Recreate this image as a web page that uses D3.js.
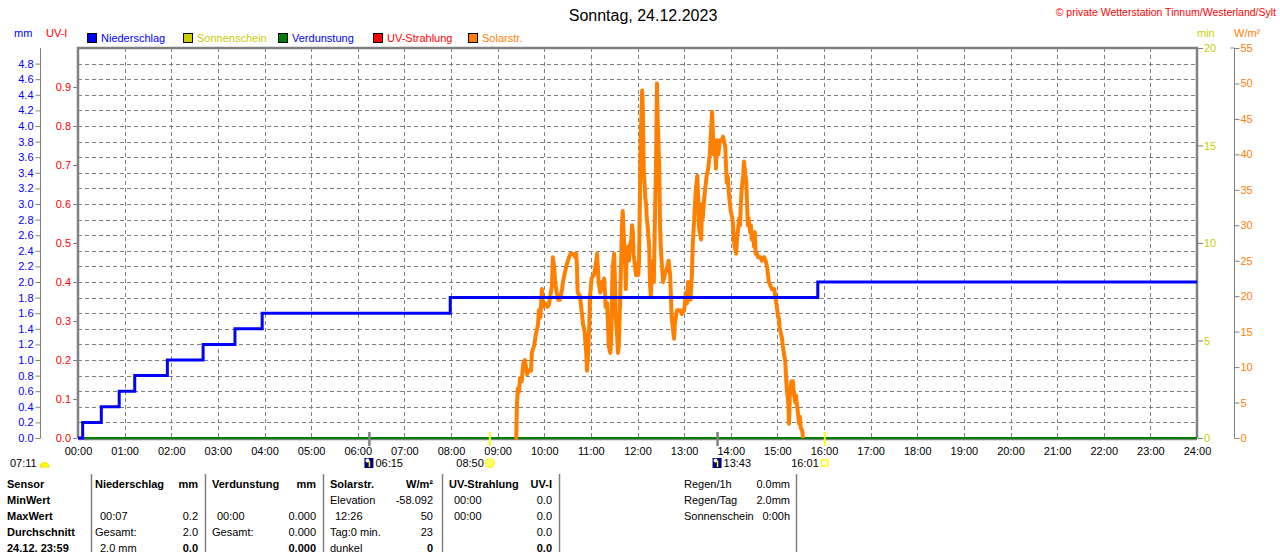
<!DOCTYPE html>
<html>
<head>
<meta charset="utf-8">
<script src="https://cdn.jsdelivr.net/npm/d3@7"></script>
<style>
  body { margin: 0; background: #fff; }
  svg { display: block; font-family: "Liberation Sans", Arial, sans-serif; }
</style>
</head>
<body>
<div id="chart"></div>
<script>
// ---- data ----
var hourLabels = ["00:00","01:00","02:00","03:00","04:00","05:00","06:00","07:00","08:00","09:00","10:00","11:00","12:00",
                  "13:00","14:00","15:00","16:00","17:00","18:00","19:00","20:00","21:00","22:00","23:00","24:00"];
var mmTicks = [0,0.2,0.4,0.6,0.8,1.0,1.2,1.4,1.6,1.8,2.0,2.2,2.4,2.6,2.8,3.0,3.2,3.4,3.6,3.8,4.0,4.2,4.4,4.6,4.8];
var uvTicks = [0,0.1,0.2,0.3,0.4,0.5,0.6,0.7,0.8,0.9];
var minTicks = [0,5,10,15,20];
var solarTicks = [0,5,10,15,20,25,30,35,40,45,50,55];

// Niederschlag, cumulative mm (minutes since midnight)
var rainMinutes = [0, 6, 30, 53, 73, 115, 161, 202, 237, 479, 952, 1440];
var rainMm      = [0, 0.2, 0.4, 0.6, 0.8, 1.0, 1.2, 1.4, 1.6, 1.8, 2.0, 2.0];

// Verdunstung mm
var evapMinutes = [0, 1440];
var evapMm = [0, 0];

// Solarstrahlung [minute, W/m²]
var solar = [[562,0],[564,0],[564.5,3],[565,5],[566,7],[567.5,6.5],[569,8.5],[571,8],[573,10.5],[575,11],[578,9],[580,9.5],
  [583,9.5],[584,12],[587,13],[589,14.5],[592,16],[593,18],[595,17],[596,19],[597,21],[598,18.5],[601,19],[604,18.5],
  [606,18.8],[607,19.5],[610,21.5],[611,25.5],[613,24],[614,22],[616,20.5],[618,19.5],[620,19.5],[623,21],[624,22],
  [627,23.5],[629,24.5],[632,25.5],[634,26],[637,26],[640,25.5],[641,26],[642,24.5],[643,20.5],[646,20],[649,17],[650,16],
  [652,15],[654,12],[655,9.5],[656,11],[658,16],[659,20],[661,22.5],[664,23],[667,25],[668,26],[669,24],[670,22],
  [672,20.5],[673,21],[674,22],[676,21.5],[677,22.5],[678,21],[679,18.5],[681,19],[682,16],[683,13],[685,12],[686,13.5],
  [687,19],[688,24],[690,26],[691,22],[692,17],[694,14],[695,12],[696,13],[697,17],[699,25],[700,30],[701,32],[703,27],
  [704,25],[705,21],[706,26],[708,27],[709,25],[710,27],[712,28],[713,30],[714,29],[715,26],[717,24],[718,23],[719,24.5],
  [721,23],[722,25],[723,33],[724,42],[726,49],[727,46],[728,38],[730,34],[731,33],[732,31],[733,30],[735,27],[736,22],
  [737,20],[739,24],[740,25],[741,22],[742,28],[744,40],[745,50],[746,45],[748,38],[749,30],[750,27],[751,25],[753,22],
  [755,23],[758,24],[760,25],[762,23],[763,20],[764,17],[766,15],[767,14],[768,16],[770,17.5],[771,18],[772,18],[775,18],
  [777,17.5],[780,18],[781,19],[782,20.5],[784,19],[785,22],[786,21],[788,19.5],[789,21],[790,23],[791,27],[793,31],
  [794,33],[795,35],[797,37],[798,34],[799,30],[800,29],[802,28],[803,33],[804,31],[806,34],[807,35],[808,36],[809,37],
  [811,38],[812,39],[813,40],[815,44],[816,46],[817,43],[818,40],[820,41],[821,38],[822,42],[824,40],[825,41],[826,42],
  [827,42],[829,42],[830,42.5],[831,42],[833,41],[834,38],[835,36],[836,37],[838,34],[839,33],[840,32],[842,31],[843,30],
  [844,28],[845,27],[847,26],[848,28],[849,29],[851,31],[852,30],[853,33],[854,35],[856,37],[857,39],[858,38],[860,36],
  [861,33],[862,30],[863,31],[865,29],[866,30],[867,28],[869,29],[870,27],[871,29],[872,26],[874,26],[875,25.5],[878,25.5],
  [880,25],[883,25.5],[885,25],[887,24],[888,23],[889,22],[891,21.5],[893,21],[896,21],[898,19.5],[900,18],[901,17],
  [902,17],[903,15.5],[905,14.5],[906,14],[907,13],[909,11.5],[910,11],[911,9],[912,7],[914,5],[915,2],[916,6],[918,8],
  [919,7],[920,8],[921,6.5],[923,5],[924,6],[925,5],[927,3],[928,2],[929,3],[930,1.5],[932,1],[933,0]];

// Sonne / Mond
var moonEvents = [{minute: 375, label: "06:15", rise: true}, {minute: 823, label: "13:43", rise: false}];
var sunEvents  = [{minute: 530, label: "08:50"}, {minute: 961, label: "16:01"}];

var legendNames  = ["Niederschlag","Sonnenschein","Verdunstung","UV-Strahlung","Solarstr."];
var legendColors = ["#0000ff","#cccc00","#008000","#ff0000","#ff8000"];
var legendText   = ["#0000ff","#cccc00","#0000ff","#ff0000","#ff8000"];

// table below the chart
var rowLabels = ["Sensor","MinWert","MaxWert","Durchschnitt","24.12. 23:59"];
var tableCols = [
  {x0: 95,  x1: 198, head: ["Niederschlag","mm"],
   rows: [["",""],["00:07","0.2"],["Gesamt:","2.0"],["2.0 mm","0.0"]]},
  {x0: 212, x1: 316, head: ["Verdunstung","mm"],
   rows: [["",""],["00:00","0.000"],["Gesamt:","0.000"],["","0.000"]]},
  {x0: 330, x1: 433, head: ["Solarstr.","W/m²"],
   rows: [["Elevation","-58.092"],["12:26","50"],["Tag:0 min.","23"],["dunkel","0"]]},
  {x0: 449, x1: 552, head: ["UV-Strahlung","UV-I"],
   rows: [["00:00","0.0"],["00:00","0.0"],["","0.0"],["","0.0"]]}
];
var summaryLabels = ["Regen/1h","Regen/Tag","Sonnenschein"];
var summaryValues = ["0.0mm","2.0mm","0:00h"];

// ---- layout ----
var W = 1280, H = 552;
var pL = 78, pR = 1197, pT = 48, pB = 438;
var grey = "#808080";

var svg = d3.select("#chart").append("svg").attr("width", W).attr("height", H);

var x = d3.scaleLinear().domain([0, 1440]).range([pL, pR]);
var yMm = d3.scaleLinear().domain([0, 5]).range([pB, pT]);
var yUv = d3.scaleLinear().domain([0, 1]).range([pB, pT]);
var yMin = d3.scaleLinear().domain([0, 20]).range([pB, pT]);
var ySol = d3.scaleLinear().domain([0, 55]).range([pB, pT]);

// title + copyright
svg.append("text").attr("x", 643).attr("y", 21).attr("text-anchor", "middle")
  .style("font-size", "16px").attr("fill", "#000").text("Sonntag, 24.12.2023");
svg.append("text").attr("x", 1276).attr("y", 16).attr("text-anchor", "end")
  .style("font-size", "10.5px").attr("fill", "#ff0000").text("© private Wetterstation Tinnum/Westerland/Sylt");

// unit labels
svg.append("text").attr("x", 14).attr("y", 37).style("font-size", "11px").attr("fill", "#0000ff").text("mm");
svg.append("text").attr("x", 46).attr("y", 37).style("font-size", "11px").attr("fill", "#ff0000").text("UV-I");
svg.append("text").attr("x", 1197).attr("y", 37).style("font-size", "11px").attr("fill", "#cccc00").text("min");
svg.append("text").attr("x", 1234).attr("y", 37).style("font-size", "11px").attr("fill", "#ff8000").text("W/m²");

// legend
var legX = [87, 183, 278, 373, 468];
var leg = svg.selectAll("g.leg").data(legendNames).enter().append("g").attr("class", "leg")
  .attr("transform", function(d, i) { return "translate(" + legX[i] + ",33)"; });
leg.append("rect").attr("x", 0.5).attr("y", 0.5).attr("width", 9).attr("height", 9)
  .attr("fill", function(d, i) { return legendColors[i]; }).attr("stroke", "#000");
leg.append("text").attr("x", 14).attr("y", 9).style("font-size", "11px")
  .attr("fill", function(d, i) { return legendText[i]; }).text(function(d) { return d; });

// grid
var grid = svg.append("g").attr("shape-rendering", "crispEdges");
grid.selectAll("line.h").data(mmTicks.slice(1)).enter().append("line")
  .attr("x1", pL).attr("x2", pR)
  .attr("y1", function(d) { return Math.round(yMm(d)) + 0.5; })
  .attr("y2", function(d) { return Math.round(yMm(d)) + 0.5; })
  .attr("stroke", grey).attr("stroke-dasharray", "4,3");
grid.selectAll("line.v").data(hourLabels.slice(1, 24)).enter().append("line")
  .attr("x1", function(d, i) { return Math.round(x((i + 1) * 60)) + 0.5; })
  .attr("x2", function(d, i) { return Math.round(x((i + 1) * 60)) + 0.5; })
  .attr("y1", pT).attr("y2", pB)
  .attr("stroke", grey).attr("stroke-dasharray", "4,3");

// frame
svg.append("path").attr("d", "M" + pL + "," + pB + "V" + pT + "H" + pR + "V" + pB)
  .attr("fill", "none").attr("stroke", grey).attr("stroke-width", 2.5);
svg.append("line").attr("x1", pL).attr("x2", pR).attr("y1", pB + 1.5).attr("y2", pB + 1.5)
  .attr("stroke", grey).attr("stroke-width", 1.5);

function styleAxis(g, col) {
  g.selectAll("path.domain").attr("stroke", grey);
  g.selectAll(".tick line").attr("stroke", grey);
  g.selectAll(".tick text").attr("fill", col).style("font-size", "11px").style("font-family", "Liberation Sans, Arial, sans-serif");
}

// left mm axis
var gMm = svg.append("g").attr("transform", "translate(40.5,0)")
  .call(d3.axisLeft(yMm).tickValues(mmTicks).tickFormat(d3.format(".1f")).tickSize(5).tickSizeOuter(0).tickPadding(2));
styleAxis(gMm, "#0000ff");
gMm.select("path.domain").attr("d", "M0," + pB + "V" + pT);

// UV axis on the frame
var gUv = svg.append("g").attr("transform", "translate(" + (pL - 1) + ",0)")
  .call(d3.axisLeft(yUv).tickValues(uvTicks).tickFormat(d3.format(".1f")).tickSize(4).tickSizeOuter(0).tickPadding(2));
styleAxis(gUv, "#ff0000");
gUv.select("path.domain").remove();

// min axis on right frame
var gMin = svg.append("g").attr("transform", "translate(" + (pR + 1) + ",0)")
  .call(d3.axisRight(yMin).tickValues(minTicks).tickSize(5).tickSizeOuter(0).tickPadding(1));
styleAxis(gMin, "#cccc00");
gMin.select("path.domain").remove();

// solar axis
var gSol = svg.append("g").attr("transform", "translate(1234.5,0)")
  .call(d3.axisRight(ySol).tickValues(solarTicks).tickSize(5).tickSizeOuter(0).tickPadding(1));
styleAxis(gSol, "#ff8000");
gSol.select("path.domain").attr("d", "M0," + pB + "V" + pT);
gSol.append("line").attr("x1", -4).attr("x2", 0).attr("y1", pT).attr("y2", pT).attr("stroke", grey);

// x axis labels
var gx = svg.append("g").attr("transform", "translate(0," + pB + ")")
  .call(d3.axisBottom(x).tickValues(hourLabels.map(function(d, i) { return i * 60; }))
    .tickFormat(function(d, i) { return hourLabels[i]; }).tickSize(0).tickPadding(9));
gx.select("path.domain").remove();
gx.selectAll(".tick text").attr("fill", "#000").style("font-size", "11px").style("font-family", "Liberation Sans, Arial, sans-serif");

// series
var lineRain = d3.line().x(function(d, i) { return x(rainMinutes[i]); }).y(function(d) { return yMm(d); })
  .curve(d3.curveStepAfter);
var lineEvap = d3.line().x(function(d, i) { return x(evapMinutes[i]); }).y(function(d) { return yMm(d); });
var lineSol = d3.line().x(function(d) { return x(d[0]); }).y(function(d) { return ySol(d[1]); });

svg.append("path").datum(evapMm).attr("d", lineEvap).attr("fill", "none")
  .attr("stroke", "#008000").attr("stroke-width", 2);
svg.append("path").datum(solar).attr("d", lineSol).attr("fill", "none")
  .attr("stroke", "#ff8000").attr("stroke-width", 4).attr("stroke-linejoin", "round");
svg.append("path").datum(rainMm).attr("d", lineRain).attr("fill", "none")
  .attr("stroke", "#0000ff").attr("stroke-width", 3);

// sun / moon markers
var ev = svg.append("g").style("font-size", "11px");
moonEvents.forEach(function(m) {
  var cx = x(m.minute);
  ev.append("line").attr("x1", cx).attr("x2", cx).attr("y1", pB - 6).attr("y2", pB + 8)
    .attr("stroke", grey).attr("stroke-width", 2.5);
  ev.append("rect").attr("x", cx - 5).attr("y", 458).attr("width", 9).attr("height", 10).attr("fill", "#000080");
  ev.append("circle").attr("cx", cx - 2).attr("cy", 460.5).attr("r", 2).attr("fill", "#ffffff");
  var ay = m.rise ? [461, 467] : [467, 461];
  ev.append("line").attr("x1", cx).attr("x2", cx).attr("y1", ay[0]).attr("y2", ay[1])
    .attr("stroke", "#ffff00").attr("stroke-width", 1.5);
  ev.append("text").attr("x", cx + 6).attr("y", 467).attr("fill", "#000").text(m.label);
});
sunEvents.forEach(function(s, i) {
  var cx = x(s.minute);
  ev.append("line").attr("x1", cx).attr("x2", cx).attr("y1", pB - 6).attr("y2", pB + 8)
    .attr("stroke", "#ffff00").attr("stroke-width", 2);
  ev.append("text").attr("x", cx - 6).attr("y", 467).attr("text-anchor", "end").attr("fill", "#000").text(s.label);
  if (i === 0) {
    ev.append("circle").attr("cx", cx).attr("cy", 463).attr("r", 4.5).attr("fill", "#ffff66")
      .attr("stroke", "#ffee00").attr("stroke-width", 1.5).attr("stroke-dasharray", "1.5,1");
  } else {
    ev.append("rect").attr("x", cx - 3).attr("y", 460).attr("width", 6).attr("height", 6)
      .attr("fill", "#fff").attr("stroke", "#ffff00").attr("stroke-width", 1.5);
  }
});
ev.append("text").attr("x", 10).attr("y", 467).attr("fill", "#000").text("07:11");
ev.append("path").attr("d", "M40,467 A4.5,4.5 0 0 1 49,467 Z").attr("fill", "#ffff00").attr("stroke", "#eedd00");

// table
var tb = svg.append("g").style("font-size", "11px").attr("fill", "#000");
var rowY = [488, 504, 520, 536, 552];
[91, 205, 323, 442, 559, 796].forEach(function(sx) {
  tb.append("line").attr("x1", sx + 0.5).attr("x2", sx + 0.5).attr("y1", 474).attr("y2", H)
    .attr("stroke", grey).attr("stroke-width", 1.5);
});
rowLabels.forEach(function(r, i) {
  tb.append("text").attr("x", 7).attr("y", rowY[i]).style("font-weight", "bold").text(r);
});
tableCols.forEach(function(c) {
  tb.append("text").attr("x", c.x0).attr("y", rowY[0]).style("font-weight", "bold").text(c.head[0]);
  tb.append("text").attr("x", c.x1).attr("y", rowY[0]).attr("text-anchor", "end").style("font-weight", "bold").text(c.head[1]);
  c.rows.forEach(function(r, i) {
    var isTime = /^\d\d:\d\d$/.test(r[0]);
    tb.append("text").attr("x", c.x0 + (isTime || /mm$/.test(r[0]) ? 5 : 0)).attr("y", rowY[i + 1]).text(r[0]);
    tb.append("text").attr("x", c.x1).attr("y", rowY[i + 1]).attr("text-anchor", "end")
      .style("font-weight", i === 3 ? "bold" : "normal").text(r[1]);
  });
});
summaryLabels.forEach(function(s, i) {
  tb.append("text").attr("x", 684).attr("y", rowY[i]).text(s);
  tb.append("text").attr("x", 790).attr("y", rowY[i]).attr("text-anchor", "end").text(summaryValues[i]);
});
</script>
</body>
</html>
